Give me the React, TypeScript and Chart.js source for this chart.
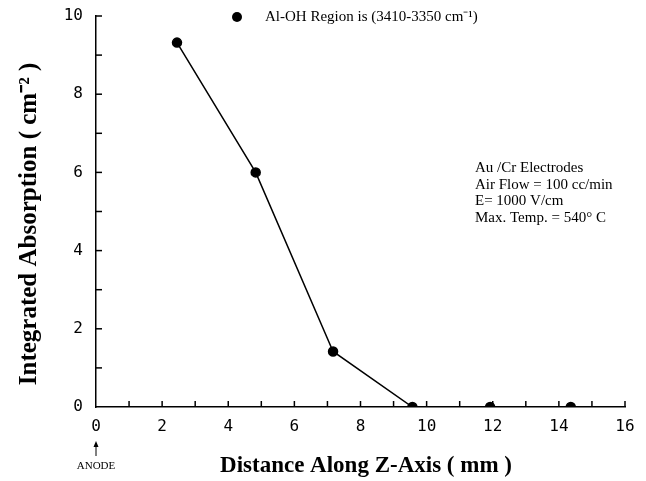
import React, { useEffect, useRef } from "react";
import { Chart, registerables } from "chart.js";

Chart.register(...registerables);

const distanceMm = [2.45, 4.83, 7.17, 9.57, 11.92, 14.36];
const absorption = [9.32, 6.0, 1.42, 0, 0, 0];
const xTickValues = [0, 2, 4, 6, 8, 10, 12, 14, 16];
const yTickValues = [0, 2, 4, 6, 8, 10];
const legendLabel = "Al-OH Region is (3410-3350 cm\u207B\u00B9)";
const noteLines = [
  "Au /Cr Electrodes",
  "Air Flow = 100 cc/min",
  "E= 1000 V/cm",
  "Max. Temp. = 540\u00B0 C",
];
const xTitle = "Distance Along Z-Axis ( mm )";
const yTitle = "Integrated Absorption ( cm\u207B\u00B2 )";
const anodeLabel = "ANODE";

const decorPlugin = {
  id: "decor",
  afterDraw(chart: any) {
    const ctx: CanvasRenderingContext2D = chart.ctx;
    const xs = chart.scales.x;
    const ys = chart.scales.y;
    const x0 = xs.getPixelForValue(0);
    const y0 = ys.getPixelForValue(0);
    ctx.save();
    ctx.strokeStyle = "#000";
    ctx.lineWidth = 1.5;
    for (let v = 1; v <= 16; v++) {
      const px = xs.getPixelForValue(v);
      ctx.beginPath();
      ctx.moveTo(px, y0);
      ctx.lineTo(px, y0 - 6);
      ctx.stroke();
    }
    for (let v = 1; v <= 10; v++) {
      const py = ys.getPixelForValue(v);
      ctx.beginPath();
      ctx.moveTo(x0, py);
      ctx.lineTo(x0 + 6, py);
      ctx.stroke();
    }
    // legend
    ctx.fillStyle = "#000";
    ctx.beginPath();
    ctx.arc(237, 17, 5, 0, Math.PI * 2);
    ctx.fill();
    ctx.font = "15px 'Liberation Serif', serif";
    ctx.textBaseline = "middle";
    ctx.textAlign = "left";
    ctx.fillText(legendLabel, 265, 17);
    // notes
    noteLines.forEach((t, i) => ctx.fillText(t, 475, 168 + i * 16.7));
    // x title
    ctx.font = "bold 23px 'Liberation Serif', serif";
    ctx.textAlign = "center";
    ctx.fillText(xTitle, 366, 466);
    // y title
    ctx.save();
    ctx.translate(30, 224);
    ctx.rotate(-Math.PI / 2);
    ctx.font = "bold 25px 'Liberation Serif', serif";
    ctx.fillText(yTitle, 0, 0);
    ctx.restore();
    // anode
    ctx.font = "11px 'Liberation Serif', serif";
    ctx.fillText(anodeLabel, x0, 466);
    ctx.lineWidth = 1;
    ctx.beginPath();
    ctx.moveTo(x0, 456);
    ctx.lineTo(x0, 443);
    ctx.stroke();
    ctx.beginPath();
    ctx.moveTo(x0 - 2.5, 447);
    ctx.lineTo(x0, 441);
    ctx.lineTo(x0 + 2.5, 447);
    ctx.closePath();
    ctx.fill();
    ctx.restore();
  },
};

export default function App() {
  const ref = useRef<HTMLCanvasElement>(null);
  useEffect(() => {
    if (!ref.current) return;
    const chart = new Chart(ref.current, {
      type: "line",
      data: {
        datasets: [
          {
            label: legendLabel,
            data: distanceMm.map((x, i) => ({ x, y: absorption[i] })),
            borderColor: "#000",
            backgroundColor: "#000",
            borderWidth: 1.5,
            pointRadius: 4.5,
            pointBackgroundColor: "#000",
            pointBorderColor: "#000",
            tension: 0,
          },
        ],
      },
      options: {
        responsive: false,
        animation: false,
        layout: { padding: { top: 16, right: 21, left: 0, bottom: 0 } },
        plugins: { legend: { display: false }, tooltip: { enabled: false } },
        scales: {
          x: {
            type: "linear",
            min: 0,
            max: 16,
            afterFit: (s: any) => {
              s.height = 74;
              s.paddingLeft = 0;
              s.paddingRight = 0;
            },
            afterBuildTicks: (s: any) => {
              s.ticks = xTickValues.map((v) => ({ value: v }));
            },
            border: { display: true, color: "#000", width: 1.5 },
            grid: { display: false, drawTicks: false },
            ticks: {
              color: "#000",
              font: { family: "'DejaVu Sans Mono', monospace", size: 16 },
              padding: 10,
              autoSkip: false,
              maxRotation: 0,
            },
          },
          y: {
            type: "linear",
            min: 0,
            max: 10,
            afterFit: (s: any) => {
              s.width = 96;
              s.paddingTop = 0;
              s.paddingBottom = 0;
            },
            afterBuildTicks: (s: any) => {
              s.ticks = yTickValues.map((v) => ({ value: v }));
            },
            border: { display: true, color: "#000", width: 1.5 },
            grid: { display: false, drawTicks: false },
            ticks: {
              color: "#000",
              font: { family: "'DejaVu Sans Mono', monospace", size: 16 },
              padding: 13,
              autoSkip: false,
            },
          },
        },
      },
      plugins: [decorPlugin],
    });
    return () => chart.destroy();
  }, []);
  return (
    <div style={{ position: "fixed", left: 0, top: 0, width: 646, height: 481, background: "#fff" }}>
      <canvas ref={ref} width={646} height={481} />
    </div>
  );
}
